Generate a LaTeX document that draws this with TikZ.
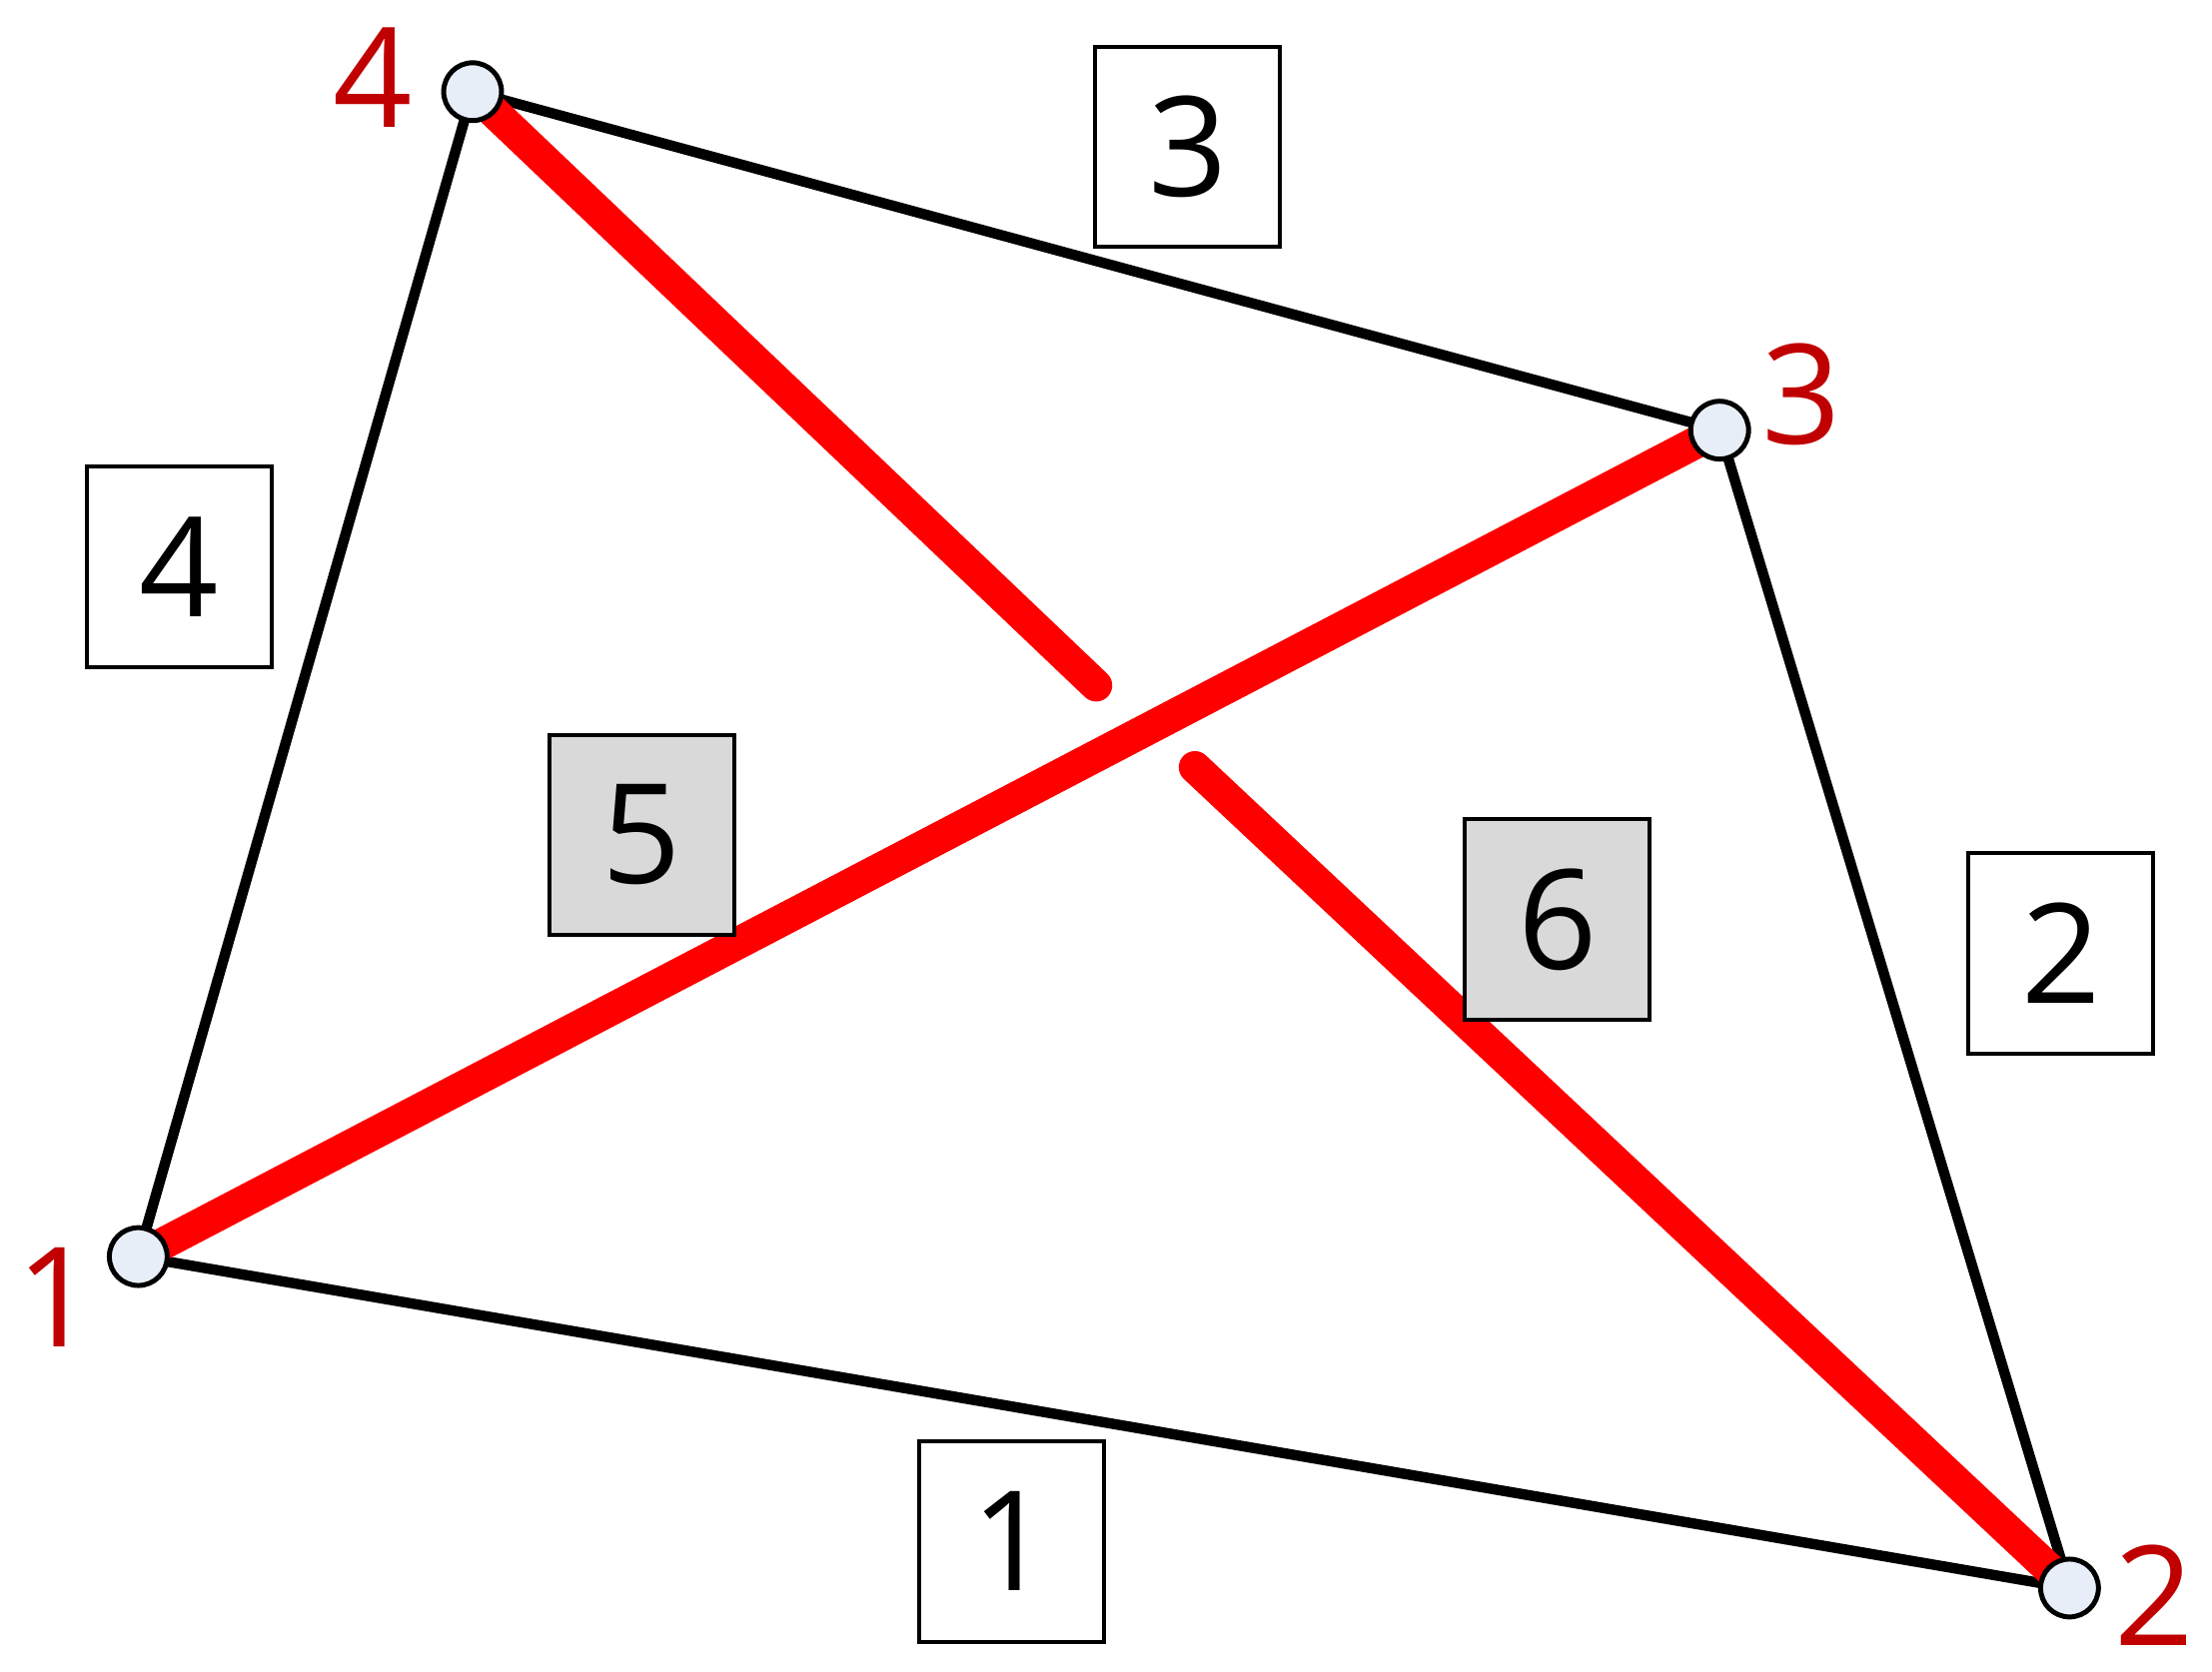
\documentclass[tikz,border=0pt]{standalone}
\usepackage{fontspec}
\setmainfont{Open Sans}
\usetikzlibrary{positioning}
\definecolor{vtx}{HTML}{E8EEF7}
\definecolor{lbl}{HTML}{C00000}
\definecolor{gbox}{HTML}{D9D9D9}
\tikzset{
 vertex/.style={shape=circle,draw=black,line width=1pt,fill=vtx,inner sep=0pt,minimum size=0.41cm},
 vname/.style={text=lbl,font=\fontsize{28}{30}\selectfont,inner sep=0pt},
 elabel/.style={shape=rectangle,draw=black,line width=0.8pt,fill=white,minimum width=1.31cm,minimum height=1.42cm,inner sep=0pt,font=\fontsize{28}{30}\selectfont},
 dlabel/.style={elabel,fill=gbox},
 bar/.style={line width=2.1pt,draw=black},
 diag/.style={line width=6.5pt,draw=red,line cap=round}
}
\begin{document}
\begin{tikzpicture}[x=0.1mm,y=-0.1mm]
\useasboundingbox (0,0) rectangle (1568,1185);
\path (98,891) coordinate (p1);
\path (1467,1126) coordinate (p2);
\path (1219,305) coordinate (p3);
\path (335,65) coordinate (p4);
\path (777,486) coordinate (gapa);
\path (847,544) coordinate (gapb);

% outer edges
\draw[bar] (p1) -- (p2);
\draw[bar] (p2) -- (p3);
\draw[bar] (p3) -- (p4);
\draw[bar] (p4) -- (p1);

% diagonals
\draw[diag] (p1) -- (p3);
\draw[diag] (p4) -- (gapa);
\draw[diag] (gapb) -- (p2);

% edge numbers
\path (717,1093) node[elabel,name=e1] {1};
\path (1461,676) node[elabel,name=e2] {2};
\path (842,104) node[elabel,name=e3] {3};
\path (127,402) node[elabel,name=e4] {4};
\path (455,592) node[dlabel,name=e5] {5};
\path (1104,652) node[dlabel,name=e6] {6};

% vertices
\path (p1) node[vertex,name=v1] {};
\path (p2) node[vertex,name=v2] {};
\path (p3) node[vertex,name=v3] {};
\path (p4) node[vertex,name=v4] {};
\path (40,920) node[vname,name=n1] {1};
\path (1527,1131) node[vname,name=n2] {2};
\path (1277,280) node[vname,name=n3] {3};
\path (264,55) node[vname,name=n4] {4};
\end{tikzpicture}
\end{document}
